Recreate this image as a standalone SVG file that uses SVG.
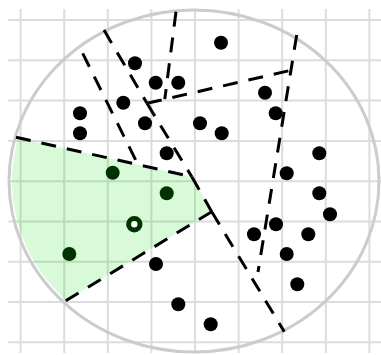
<svg xmlns="http://www.w3.org/2000/svg" width="381" height="355" viewBox="0 0 381 355">
<style>
.grid line{stroke:#dcdcdc;stroke-width:2}
.edge{fill:none;stroke:#000;stroke-width:3;stroke-dasharray:15 11}
.pt{fill:#000}
.gpt{fill:#003300}
.ring{fill:#fff;stroke:#003300;stroke-width:5}
</style>
<defs>
<clipPath id="disk"><ellipse cx="194" cy="181" rx="182" ry="168"/></clipPath>
</defs>
<rect width="381" height="355" fill="#fff"/>
<g id="grid" class="grid">
<line x1="20.6" y1="9" x2="20.6" y2="353"/>
<line x1="64.2" y1="9" x2="64.2" y2="353"/>
<line x1="107.8" y1="9" x2="107.8" y2="353"/>
<line x1="151.4" y1="9" x2="151.4" y2="353"/>
<line x1="195" y1="9" x2="195" y2="353"/>
<line x1="238.6" y1="9" x2="238.6" y2="353"/>
<line x1="282.2" y1="9" x2="282.2" y2="353"/>
<line x1="325.8" y1="9" x2="325.8" y2="353"/>
<line x1="369.4" y1="9" x2="369.4" y2="353"/>
<line x1="8.3" y1="20" x2="381" y2="20"/>
<line x1="8.3" y1="60.3" x2="381" y2="60.3"/>
<line x1="8.3" y1="100.6" x2="381" y2="100.6"/>
<line x1="8.3" y1="140.9" x2="381" y2="140.9"/>
<line x1="8.3" y1="181.2" x2="381" y2="181.2"/>
<line x1="8.3" y1="221.4" x2="381" y2="221.4"/>
<line x1="8.3" y1="261.7" x2="381" y2="261.7"/>
<line x1="8.3" y1="302" x2="381" y2="302"/>
<line x1="8.3" y1="342.3" x2="381" y2="342.3"/>
</g>
<g id="region">
<polygon points="191.8,176.7 211.7,211.7 30,322.6 -10,322.6 -10,131.7" fill="#00e000" fill-opacity="0.15" clip-path="url(#disk)"/>
</g>
<g id="boundary">
<ellipse cx="194" cy="181" rx="185" ry="171" fill="none" stroke="#cccccc" stroke-width="3"/>
</g>
<g id="connectors">
<line class="edge" x1="104" y1="30" x2="147" y2="103.3"/>
<line class="edge" x1="147" y1="103.3" x2="191.8" y2="176.7"/>
<line class="edge" x1="147" y1="103.3" x2="291" y2="70.3"/>
<line class="edge" x1="176" y1="11.7" x2="164.8" y2="99.1"/>
<line class="edge" x1="296.7" y1="35" x2="258" y2="272"/>
<line class="edge" x1="82.7" y1="53.3" x2="138" y2="164.7"/>
<line class="edge" x1="16" y1="137.3" x2="191.8" y2="176.7"/>
<line class="edge" x1="191.8" y1="176.7" x2="211.7" y2="211.7"/>
<line class="edge" x1="211.7" y1="211.7" x2="63.3" y2="302.3"/>
<line class="edge" x1="211.7" y1="211.7" x2="284.3" y2="331.7"/>
</g>
<g id="p1"><circle class="pt" cx="221" cy="42.7" r="7"/></g>
<g id="p2"><circle class="pt" cx="135" cy="63.3" r="7"/></g>
<g id="p3"><circle class="pt" cx="155.7" cy="82.7" r="7"/></g>
<g id="p4"><circle class="pt" cx="178.3" cy="82.7" r="7"/></g>
<g id="p5"><circle class="pt" cx="123.3" cy="102.7" r="7"/></g>
<g id="p6"><circle class="pt" cx="80" cy="113.3" r="7"/></g>
<g id="p7"><circle class="pt" cx="80" cy="133.3" r="7"/></g>
<g id="p8"><circle class="pt" cx="145" cy="123.3" r="7"/></g>
<g id="p9"><circle class="pt" cx="166.7" cy="153.3" r="7"/></g>
<g id="p10"><circle class="pt" cx="265" cy="92.7" r="7"/></g>
<g id="p11"><circle class="pt" cx="275.7" cy="113.3" r="7"/></g>
<g id="p12"><circle class="pt" cx="200" cy="123.3" r="7"/></g>
<g id="p13"><circle class="pt" cx="221.7" cy="133.3" r="7"/></g>
<g id="p14"><circle class="pt" cx="319.3" cy="153.3" r="7"/></g>
<g id="p15"><circle class="pt" cx="286.7" cy="173.3" r="7"/></g>
<g id="p16"><circle class="pt" cx="156" cy="264" r="7"/></g>
<g id="p17"><circle class="pt" cx="178.3" cy="304.3" r="7"/></g>
<g id="p18"><circle class="pt" cx="319.3" cy="193.3" r="7"/></g>
<g id="p19"><circle class="pt" cx="330" cy="214.3" r="7"/></g>
<g id="p20"><circle class="pt" cx="276" cy="224.3" r="7"/></g>
<g id="p21"><circle class="pt" cx="254" cy="234.3" r="7"/></g>
<g id="p22"><circle class="pt" cx="308.3" cy="234.3" r="7"/></g>
<g id="p23"><circle class="pt" cx="286.7" cy="254" r="7"/></g>
<g id="p24"><circle class="pt" cx="297.3" cy="284.3" r="7"/></g>
<g id="p25"><circle class="pt" cx="210.7" cy="324.3" r="7"/></g>
<g id="g1"><circle class="gpt" cx="112.7" cy="172.7" r="7"/></g>
<g id="g2"><circle class="gpt" cx="166.7" cy="193.3" r="7"/></g>
<g id="g3"><circle class="gpt" cx="69.3" cy="254" r="7"/></g>
<g id="query"><circle class="ring" cx="134.3" cy="224.3" r="5.7"/></g>
</svg>
